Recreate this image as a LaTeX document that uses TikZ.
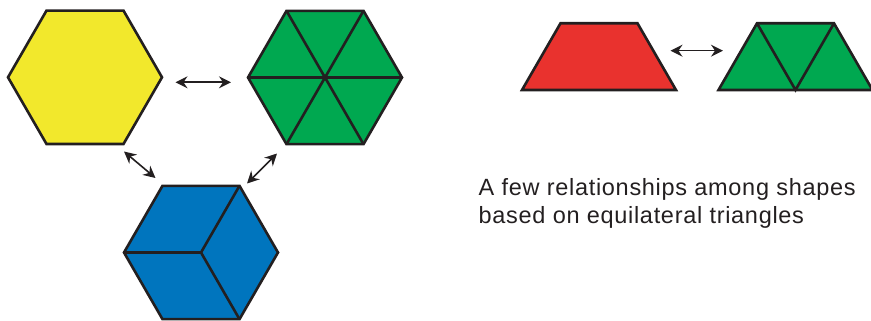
\documentclass[tikz,border=0pt]{standalone}
\usepackage{fontspec}
\setmainfont{Liberation Sans}
\usetikzlibrary{arrows.meta}
\definecolor{tyellow}{RGB}{242,232,44}
\definecolor{tgreen}{RGB}{0,168,80}
\definecolor{tblue}{RGB}{0,117,190}
\definecolor{tred}{RGB}{233,50,46}
\definecolor{tink}{RGB}{35,31,32}
\tikzset{
  tile/.style={draw=tink, line width=2.6pt, line join=miter},
  rel/.style={{Stealth[length=12pt,width=12pt,inset=4pt]}-{Stealth[length=12pt,width=12pt,inset=4pt]},
              line width=1.6pt, color=tink},
  note/.style={font=\fontsize{23.5}{28}\selectfont\addfontfeature{LetterSpace=3},
               color=tink, align=left, inner sep=0pt},
}
\begin{document}
\begin{tikzpicture}[x=1pt, y=-1pt]
\useasboundingbox (0,0) rectangle (871,321);
% centres of the hexagons
\coordinate (yhex) at (85,77.3);
\coordinate (ghex) at (325,77.5);
\coordinate (bhex) at (201,252.5);
% yellow hexagon
\draw[tile, fill=tyellow] (yhex) +(0:77) -- +(60:77) -- +(120:77) -- +(180:77)
  -- +(240:77) -- +(300:77) -- cycle;
% green hexagon, six triangles
\draw[tile, fill=tgreen] (ghex) +(0:77) -- +(60:77) -- +(120:77) -- +(180:77)
  -- +(240:77) -- +(300:77) -- cycle;
\foreach \a in {0,60,120}
  \draw[tile] (ghex) +(\a:77) -- +(\a+180:77);
% blue hexagon, three rhombi
\draw[tile, fill=tblue] (bhex) +(0:77) -- +(60:77) -- +(120:77) -- +(180:77)
  -- +(240:77) -- +(300:77) -- cycle;
\foreach \a in {180,300,60}
  \draw[tile] (bhex) -- +(\a:77);
% red trapezoid and three triangles
\coordinate (rtrap) at (522,90);
\coordinate (gtrap) at (718.5,90);
\draw[tile, fill=tred] (rtrap) -- ++(154,0) -- ++(-38.5,-66.7) -- ++(-77,0) -- cycle;
\draw[tile, fill=tgreen] (gtrap) -- ++(154,0) -- ++(-38.5,-66.7) -- ++(-77,0) -- cycle;
\draw[tile] (gtrap) ++(38.5,-66.7) -- ++(38.5,66.7) -- ++(38.5,-66.7);
% arrow ends
\coordinate (a1) at (175.5,82.3);
\coordinate (a2) at (231,82.3);
\coordinate (b1) at (124,151.5);
\coordinate (b2) at (155.5,178);
\coordinate (c1) at (277,153.5);
\coordinate (c2) at (247,183.5);
\coordinate (d1) at (670.5,50.7);
\coordinate (d2) at (723,50.7);
\draw[rel] (a1) -- (a2);
\draw[rel] (b1) -- (b2);
\draw[rel] (c1) -- (c2);
\draw[rel] (d1) -- (d2);
\node[note, anchor=base west] (cap) at (478.5,223.3)
  {A few relationships among shapes\\based on equilateral triangles};
\end{tikzpicture}
\end{document}
